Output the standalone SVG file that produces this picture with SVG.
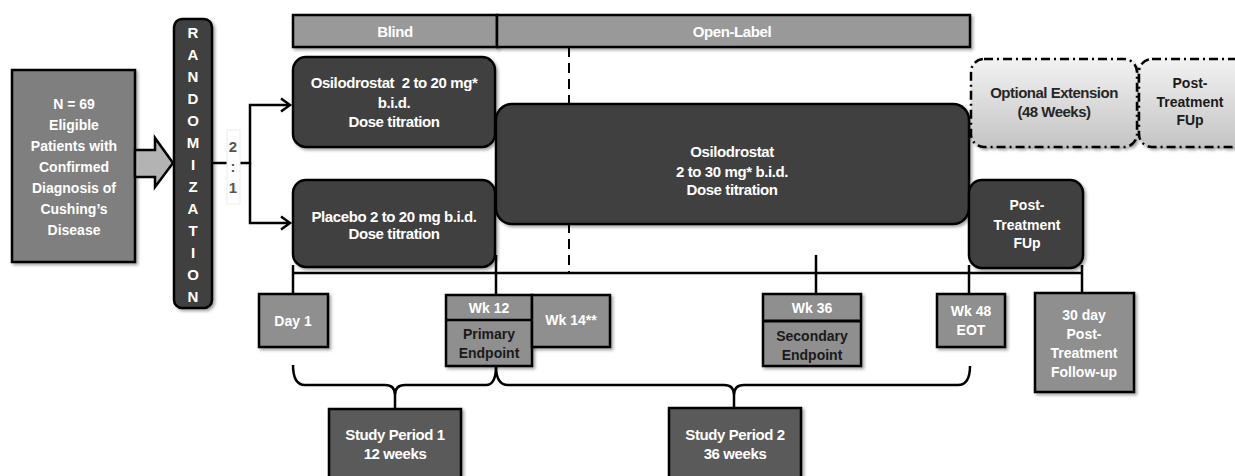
<svg xmlns="http://www.w3.org/2000/svg" width="1235" height="476" viewBox="0 0 1235 476">
  <defs>
    <filter id="sh" x="-10%" y="-10%" width="130%" height="130%">
      <feDropShadow dx="2" dy="2" stdDeviation="1.5" flood-color="#000" flood-opacity="0.35"/>
    </filter>
    <linearGradient id="lg" x1="0" y1="0" x2="0" y2="1">
      <stop offset="0" stop-color="#f2f2f2"/>
      <stop offset="1" stop-color="#c4c4c4"/>
    </linearGradient>
    <marker id="chev" markerUnits="userSpaceOnUse" markerWidth="16" markerHeight="16" refX="12" refY="8" orient="auto">
      <path d="M3,1.5 L12,8 L3,14.5" fill="none" stroke="#000" stroke-width="2.5"/>
    </marker>
    <style>
      text { font-family: "Liberation Sans", Arial, sans-serif; font-weight: bold; text-anchor: middle; }
      .w { fill: #fff; font-size: 14px; }
      .wc { fill: #fff; font-size: 15px; letter-spacing: -0.4px; }
      .k { fill: #1a1a1a; font-size: 14px; }
      .kc { fill: #262626; font-size: 15px; letter-spacing: -0.5px; }
      .dark { fill: #404040; stroke: #000; stroke-width: 2.5; }
      .mid { fill: #8f8f8f; stroke: #000; stroke-width: 2.5; }
      .bar { fill: #999999; stroke: #000; stroke-width: 2.5; }
      .sp { fill: #5a5a5a; stroke: #000; stroke-width: 2.5; }
      .opt { fill: url(#lg); stroke: #000; stroke-width: 2.5; stroke-dasharray: 9 4 2 4; }
      .ln { fill: none; stroke: #000; stroke-width: 2.5; }
    </style>
  </defs>

  <g id="connectors">
    <line x1="569" y1="47" x2="569" y2="273" stroke="#000" stroke-width="2" stroke-dasharray="10 6"/>
    <line class="ln" x1="213" y1="163" x2="228" y2="163"/>
    <path class="ln" d="M239,163 H250 V105 H290" marker-end="url(#chev)"/>
    <path class="ln" d="M250,163 V223 H290" marker-end="url(#chev)"/>
    <line class="ln" x1="293" y1="273" x2="1082" y2="273"/>
    <line class="ln" x1="293" y1="265" x2="293" y2="294"/>
    <line class="ln" x1="496" y1="255" x2="496" y2="295"/>
    <line class="ln" x1="816" y1="255" x2="816" y2="294"/>
    <line class="ln" x1="969" y1="265" x2="969" y2="294"/>
    <line class="ln" x1="1082" y1="265" x2="1082" y2="293"/>
    <path class="ln" d="M293,365 Q293,385 305,385 H385 Q395,385 395,395 V408 M395,395 Q395,385 405,385 H486 Q496,385 496,366"/>
    <path class="ln" d="M496,366 Q496,385 508,385 H724 Q734,385 734,395 V408 M734,395 Q734,385 744,385 H958 Q970,385 970,366"/>
  </g>

  <g id="n-patients">
    <rect x="12" y="70" width="123" height="192" fill="#7f7f7f" stroke="#000" stroke-width="2.5" filter="url(#sh)"/>
    <text class="w" x="74" y="109">N = 69</text>
    <text class="w" x="74" y="130">Eligible</text>
    <text class="w" x="74" y="151">Patients with</text>
    <text class="w" x="74" y="172">Confirmed</text>
    <text class="w" x="74" y="193">Diagnosis of</text>
    <text class="w" x="74" y="214">Cushing’s</text>
    <text class="w" x="74" y="235">Disease</text>
  </g>

  <g id="big-arrow">
    <path d="M135,150 H155 V138 L173,163 L155,187 V177 H135 Z" fill="#b3b3b3" stroke="#000" stroke-width="2.5" stroke-linejoin="miter"/>
  </g>

  <g id="randomization">
    <rect x="174" y="19" width="38" height="289" rx="8" class="dark" filter="url(#sh)"/>
    <text class="w" style="font-size:15px" x="193" y="38">R</text>
    <text class="w" style="font-size:15px" x="193" y="60">A</text>
    <text class="w" style="font-size:15px" x="193" y="82">N</text>
    <text class="w" style="font-size:15px" x="193" y="104">D</text>
    <text class="w" style="font-size:15px" x="193" y="126">O</text>
    <text class="w" style="font-size:15px" x="193" y="148">M</text>
    <text class="w" style="font-size:15px" x="193" y="170">I</text>
    <text class="w" style="font-size:15px" x="193" y="192">Z</text>
    <text class="w" style="font-size:15px" x="193" y="214">A</text>
    <text class="w" style="font-size:15px" x="193" y="236">T</text>
    <text class="w" style="font-size:15px" x="193" y="258">I</text>
    <text class="w" style="font-size:15px" x="193" y="280">O</text>
    <text class="w" style="font-size:15px" x="193" y="302">N</text>
  </g>

  <g id="ratio">
    <rect x="227" y="130" width="13" height="74" fill="#fff" stroke="#ececec" stroke-width="1"/>
    <text x="233" y="152" style="font-size:15px;fill:#555">2</text>
    <text x="233" y="172" style="font-size:15px;fill:#555">:</text>
    <text x="233" y="193" style="font-size:15px;fill:#555">1</text>
  </g>

  <g id="phase-bar">
    <rect x="293" y="15" width="204" height="32" class="bar" filter="url(#sh)"/>
    <rect x="497" y="15" width="473" height="32" class="bar" filter="url(#sh)"/>
    <text class="wc" x="395" y="37">Blind</text>
    <text class="wc" x="732" y="37">Open-Label</text>
  </g>

  <g id="osilo-blind">
    <rect x="293" y="57" width="202" height="90" rx="13" class="dark" filter="url(#sh)"/>
    <text class="wc" x="394" y="88">Osilodrostat &#160;2 to 20 mg*</text>
    <text class="wc" x="394" y="108">b.i.d.</text>
    <text class="wc" x="394" y="127">Dose titration</text>
  </g>

  <g id="placebo">
    <rect x="293" y="180" width="202" height="87" rx="13" class="dark" filter="url(#sh)"/>
    <text class="wc" x="394" y="222">Placebo 2 to 20 mg b.i.d.</text>
    <text class="wc" x="394" y="239">Dose titration</text>
  </g>

  <g id="osilo-open">
    <rect x="496" y="104" width="473" height="120" rx="16" class="dark" filter="url(#sh)"/>
    <text class="wc" x="732" y="157">Osilodrostat</text>
    <text class="wc" x="732" y="177">2 to 30 mg* b.i.d.</text>
    <text class="wc" x="732" y="195">Dose titration</text>
  </g>

  <g id="optional-extension">
    <rect x="971" y="59" width="166" height="88" rx="13" class="opt" filter="url(#sh)"/>
    <text class="kc" x="1054" y="98">Optional Extension</text>
    <text class="kc" x="1054" y="117">(48 Weeks)</text>
  </g>

  <g id="post-treatment-optional">
    <rect x="1139" y="59" width="110" height="88" rx="13" class="opt" filter="url(#sh)"/>
    <text class="k" x="1190" y="88">Post-</text>
    <text class="k" x="1190" y="107">Treatment</text>
    <text class="k" x="1190" y="125">FUp</text>
  </g>

  <g id="post-treatment">
    <rect x="969" y="180" width="114" height="88" rx="13" class="dark" filter="url(#sh)"/>
    <text class="w" x="1027" y="210">Post-</text>
    <text class="w" x="1027" y="230">Treatment</text>
    <text class="w" x="1027" y="248">FUp</text>
  </g>

  <g id="day1">
    <rect x="259" y="294" width="69" height="53" class="mid" filter="url(#sh)"/>
    <text class="w" x="293" y="326">Day 1</text>
  </g>

  <g id="wk12">
    <rect x="446" y="295" width="86" height="71" class="mid" filter="url(#sh)"/>
    <line x1="446" y1="320" x2="532" y2="320" stroke="#000" stroke-width="2.5"/>
    <text class="w" x="489" y="313">Wk 12</text>
    <text class="k" x="489" y="339">Primary</text>
    <text class="k" x="489" y="358">Endpoint</text>
  </g>

  <g id="wk14">
    <rect x="532" y="295" width="78" height="52" class="mid" filter="url(#sh)"/>
    <text class="w" x="571" y="325">Wk 14**</text>
  </g>

  <g id="wk36">
    <rect x="763" y="294" width="98" height="72" class="mid" filter="url(#sh)"/>
    <line x1="763" y1="321" x2="861" y2="321" stroke="#000" stroke-width="3"/>
    <text class="w" x="812" y="313">Wk 36</text>
    <text class="k" x="812" y="341">Secondary</text>
    <text class="k" x="812" y="360">Endpoint</text>
  </g>

  <g id="wk48">
    <rect x="937" y="294" width="68" height="53" class="mid" filter="url(#sh)"/>
    <text class="w" x="971" y="316">Wk 48</text>
    <text class="w" x="971" y="335">EOT</text>
  </g>

  <g id="followup30">
    <rect x="1035" y="293" width="99" height="99" class="mid" filter="url(#sh)"/>
    <text class="w" x="1084" y="320">30 day</text>
    <text class="w" x="1084" y="339">Post-</text>
    <text class="w" x="1084" y="358">Treatment</text>
    <text class="w" x="1084" y="377">Follow-up</text>
  </g>

  <g id="study-period-1">
    <rect x="329" y="409" width="132" height="72" class="sp" filter="url(#sh)"/>
    <text class="wc" x="395" y="440">Study Period 1</text>
    <text class="wc" x="395" y="459">12 weeks</text>
  </g>

  <g id="study-period-2">
    <rect x="669" y="408" width="132" height="73" class="sp" filter="url(#sh)"/>
    <text class="wc" x="735" y="440">Study Period 2</text>
    <text class="wc" x="735" y="459">36 weeks</text>
  </g>
</svg>
